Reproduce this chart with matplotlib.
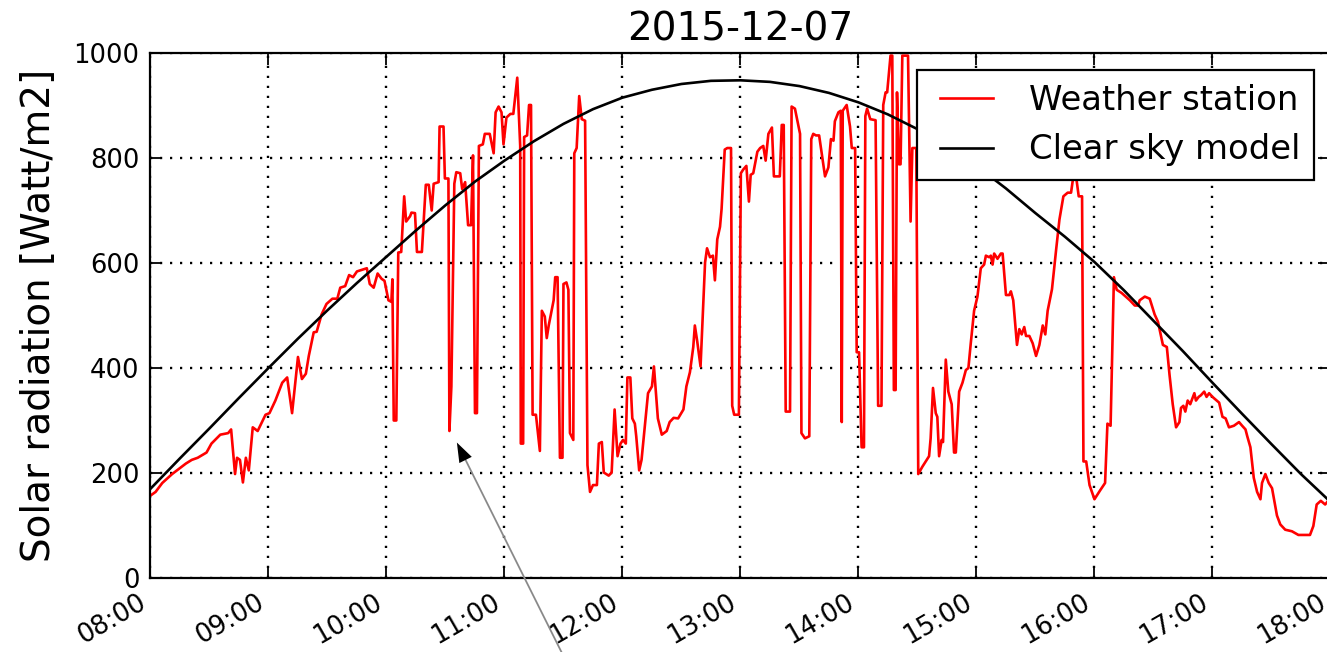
# -*- coding: utf-8 -*-
"""
Solar radiation on 2015-12-07: weather station vs clear sky model
"""

import numpy as np
import pandas as pd
import matplotlib
matplotlib.use('Agg')
import matplotlib.pyplot as plt
import matplotlib.dates as mdates

day = '2015-12-07'

# weather station, minutes after 08:00 and W/m2
station_min = [
    0, 2.6, 6, 11, 18, 21, 24, 28.5, 31, 35.5, 39.5, 41, 43, 44, 45.5, 47,
    48.5, 50, 52, 54.5, 58.5, 60.5, 63.5, 67, 69.5, 72, 75, 77, 79, 80.5,
    83, 84.5, 87, 89.5, 92.5, 95, 96.5, 99, 101, 103, 105, 107.5, 110,
    111.5, 113.5, 115.5, 117.5, 119,
    121, 122.5, 123, 123.7, 125, 126, 127.5, 129, 130, 132, 132.7, 134.5,
    135.5, 138, 140, 141.5, 143, 144, 146.5, 147, 149, 149.7, 151.5, 152,
    153, 154.5, 155.5, 157.5, 158.5, 160, 161.5, 163, 164, 165, 166, 167,
    169, 170, 172.5, 174.5, 175.5, 177, 178.5, 179.5, 181, 183, 184.5,
    186.5, 188, 188.3, 189.5, 190, 191.5, 192.5, 193.5, 194.3, 196, 198,
    199, 200.5, 201.5, 202.5, 205, 205.8, 207, 208.2, 209.5, 210, 211.5,
    212.5, 213.3, 215, 215.5, 216.7, 218, 219.3, 221, 222.2, 223.5, 225,
    227, 228, 229.5, 230.5, 233, 234.5, 236, 237.5, 239,
    240.3, 241.7, 242.5, 244, 245, 246.3, 247, 248.5, 249.7, 253, 255, 256,
    258, 260, 262.5, 264, 266, 268.3, 271, 272.5, 274.3, 276, 276.8, 278,
    279.7, 282, 283, 284.5, 286, 287, 288.2, 289.6, 290.4, 292, 293.3,
    295.2, 295.8, 296.8, 299.2, 300.2, 301.4, 303, 304.3, 305.2, 306.5,
    308.6, 310, 311.6, 312.8, 314.2, 316, 317, 320, 321, 322, 323, 325.2,
    326, 327.7, 330.3, 331, 332.8, 335, 336, 337, 338.4, 340, 341.3, 343,
    344.7, 346, 347.3, 348, 349.8, 351, 351.5, 352, 354, 355.7, 356.6,
    358.3, 359.1, 360.3,
    361.6, 362.8, 363.5, 364.4, 366, 368.7, 370, 371.7, 372.6, 373.8,
    374.6, 376.3, 377.2, 378, 378.9, 379.6, 380.6, 381.4, 382.3, 385.2,
    386.5, 387.4, 389.4, 390.4, 392.5, 394.2, 395.9, 396.7, 397.9, 399.3,
    400.1, 401, 402.3, 403, 404.4, 405.7, 407.4, 408.6, 409.5, 411.2,
    412.9, 414.6, 415.9, 417.1, 418.8, 420.5, 422.2, 423.9, 424.8, 426.5,
    427.3, 428.2, 429, 430.7, 432.4, 433.3, 435, 436.7, 437.5, 438.7,
    440.6, 441.8, 443, 444.3, 445.2, 446.9, 448.6, 450.3, 452, 453.7, 455,
    456.2, 458.4, 460.5, 462.2, 464.2, 466.4, 468.1, 469, 470.3, 472,
    473.7, 474.4, 475.8, 477.5, 480,
    482.9, 485.4, 486.6, 488.2, 489.9, 491.3, 493.8, 498, 500.5, 502.2, 503,
    505.6, 508.1, 510.6, 512.3, 514.8, 516.8, 518.2, 519.8, 521.5, 523.2,
    524, 525.2, 526.2, 527.4, 528.7, 530.8, 531.6, 533, 534.1, 535.8, 537,
    538.3, 540, 543.4, 545.1, 546.7, 548.4, 550.9, 553.5, 555.1, 556.8,
    557.7, 559.3, 561, 562.7, 564.4, 565.2, 566.9, 568.6, 570.3, 572.8,
    574.5, 577, 580.4, 583.7, 589.6, 591.3, 593, 595.1, 597.3, 599.5]

station_val = [
    157, 164, 181, 198, 218, 225, 229, 239, 256, 273, 276, 283, 198, 229,
    225, 182, 229, 205, 287, 280, 311, 314, 338, 372, 382, 314, 421, 379,
    389, 423, 468, 469, 502, 522, 532, 532, 553, 556, 577, 573, 584, 587,
    590, 560, 553, 580, 570, 566,
    529, 526, 569, 300, 300, 620, 621, 727, 679, 689, 696, 695, 621, 621,
    749, 749, 700, 751, 754, 860, 860, 761, 761, 280, 365, 751, 773, 771,
    741, 754, 672, 672, 805, 314, 314, 823, 826, 846, 846, 809, 887, 898,
    887, 826, 877, 884, 884, 953, 823, 256, 256, 840, 843, 901, 901, 311,
    311, 242, 509, 498, 457, 481, 529, 573, 573, 229, 229, 560, 563, 549,
    276, 263, 809, 819, 918, 874, 871, 215, 164, 177, 177, 256, 259, 201,
    195, 201, 321, 232, 256,
    263, 256, 382, 382, 304, 294, 270, 205, 225, 352, 365, 403, 304, 273,
    280, 297, 305, 304, 321, 365, 392, 440, 481, 451, 403, 601, 628, 611,
    614, 567, 645, 669, 703, 816, 819, 819, 328, 311, 311, 771, 778, 785,
    717, 768, 771, 812, 819, 823, 795, 846, 858, 765, 765, 863, 863, 317,
    317, 898, 894, 846, 276, 266, 270, 836, 846, 843, 843, 809, 765, 782,
    836, 833, 870, 887, 890, 297, 890, 901, 860, 819, 819, 430, 430,
    249, 249, 880, 894, 874, 872, 328, 328, 901, 925, 925, 995, 995, 358,
    358, 925, 788, 788, 995, 995, 679, 819, 819, 198, 212, 222, 232, 266,
    362, 314, 307, 232, 263, 259, 416, 355, 331, 239, 239, 355, 372, 396,
    400, 447, 509, 536, 590, 597, 614, 611, 614, 597, 618, 608, 618, 618,
    539, 539, 546, 529, 444, 474, 464, 478, 461, 461, 447, 423, 444, 481,
    464, 509, 550, 625, 683, 727, 734, 734, 758, 775, 727, 727, 222, 222,
    177, 150,
    167, 181, 294, 290, 573, 549, 543, 529, 519, 519, 529, 536, 532, 502,
    488, 444, 440, 386, 331, 287, 297, 324, 328, 317, 338, 331, 352, 338,
    345, 348, 355, 345, 352, 345, 334, 307, 304, 287, 290, 297, 290, 283,
    270, 249, 191, 164, 150, 181, 198, 181, 171, 119, 102, 92, 89, 82, 82,
    99, 140, 147, 140, 150]

# clear sky model, every 15 minutes from 08:00
model_min = list(range(0, 601, 15))
model_val = [170, 228, 285, 343, 400, 456, 510, 562, 612, 662, 710, 755,
             795, 832, 865, 893, 915, 930, 941, 947, 948, 945, 937, 924,
             906, 883, 855, 822, 785, 742, 695, 650, 602, 548, 490, 432,
             372, 313, 255, 198, 145]

# arrow: tip near the 10:32 dip, tail below the axes (minutes, W/m2)
arrow_tip = (155.8, 258)
arrow_tail = (211.5, -160)

start = pd.Timestamp(day + ' 08:00')
t_station = start + pd.to_timedelta(station_min, unit='m')
t_model = start + pd.to_timedelta(model_min, unit='m')

plt.rcParams['font.family'] = ['DejaVu Sans']
plt.rcParams['lines.scale_dashes'] = False

fig = plt.figure(figsize=(13.27, 6.52), dpi=100)
ax = fig.add_axes([0.1134, 0.1135, 0.8892, 0.8052])

ax.plot(t_station, station_val, color='red', lw=1.9, label='Weather station')
ax.plot(t_model, model_val, color='black', lw=1.9, label='Clear sky model')

ax.set_xlim(start, start + pd.Timedelta(hours=10))
ax.set_ylim(0, 1000)
ax.xaxis.set_major_locator(mdates.HourLocator())
ax.xaxis.set_major_formatter(mdates.DateFormatter('%H:%M'))
ax.set_yticks(np.arange(0, 1001, 200))

ax.grid(True, color='black', linestyle=(0, (1.6, 5.6)), linewidth=1.7)
ax.tick_params(direction='in', length=8.5, width=1.3, top=True, right=True,
               labelsize=18.6, pad=8)
for s in ax.spines.values():
    s.set_linewidth(1.6)
plt.setp(ax.get_xticklabels(), rotation=30, ha='right')

ax.set_title(day, fontsize=28, pad=9)
ax.set_ylabel('Solar radiation [Watt/m2]', fontsize=28, labelpad=11)

xy_tip = (start + pd.Timedelta(minutes=arrow_tip[0]), arrow_tip[1])
xy_tail = (start + pd.Timedelta(minutes=arrow_tail[0]), arrow_tail[1])
ax.annotate('', xy=xy_tip, xytext=xy_tail,
            arrowprops=dict(arrowstyle='-', color='0.55', lw=1.3,
                            shrinkA=0, shrinkB=8),
            annotation_clip=False)
ax.annotate('', xy=xy_tip, xytext=xy_tail,
            arrowprops=dict(facecolor='black', edgecolor='none', width=0.01,
                            headwidth=10, headlength=14, shrink=0),
            annotation_clip=False)

leg = ax.legend(loc='upper right', fontsize=24.4, fancybox=False,
                framealpha=1, edgecolor='black', borderpad=0.4,
                labelspacing=0.5, handlelength=2.15, handletextpad=0.75,
                numpoints=2)
leg.get_frame().set_linewidth(1.6)

plt.savefig('out.png', dpi=100)
